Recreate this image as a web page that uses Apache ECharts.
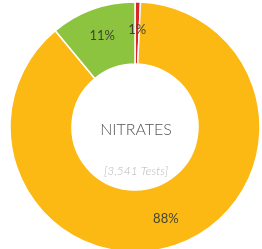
<!DOCTYPE html>
<html>
<head>
<meta charset="utf-8">
<script src="https://cdn.jsdelivr.net/npm/echarts@6/dist/echarts.min.js"></script>
<style>html,body{margin:0;padding:0;background:#fff;}#c{width:262px;height:249px;}</style>
</head>
<body>
<div id="c"></div>
<script>
var categories = ['Red', 'Yellow', 'Green'];
var values = [0.7, 88.3, 11.0];
var labels = ['1%', '88%', '11%'];
var colors = ['#D9262B', '#FCB813', '#8CC43F'];
var centerTitle = 'NITRATES';
var centerSub = '[3,541 Tests]';

var chart = echarts.init(document.getElementById('c'));
chart.setOption({
  animation: false,
  series: [{
    type: 'pie',
    center: [135, 127],
    radius: [63, 125],
    startAngle: 90,
    clockwise: true,
    avoidLabelOverlap: false,
    itemStyle: { borderColor: '#fff', borderWidth: 1.5 },
    label: {
      show: true,
      position: 'inside',
      fontFamily: 'Lato',
      fontSize: 13,
      color: '#3f4630',
      formatter: function (p) { return labels[p.dataIndex]; }
    },
    labelLine: { show: false },
    emphasis: { disabled: true },
    data: categories.map(function (c, i) {
      return { name: c, value: values[i], itemStyle: { color: colors[i] } };
    })
  }],
  graphic: [
    { type: 'text', x: 136, y: 130, style: { text: centerTitle, fill: '#555555', font: '300 16px Lato', align: 'center', verticalAlign: 'middle' } },
    { type: 'text', x: 136, y: 171, style: { text: centerSub, fill: '#b8b8b8', font: 'italic 300 12px Lato', align: 'center', verticalAlign: 'middle' } }
  ]
});
</script>
</body>
</html>
